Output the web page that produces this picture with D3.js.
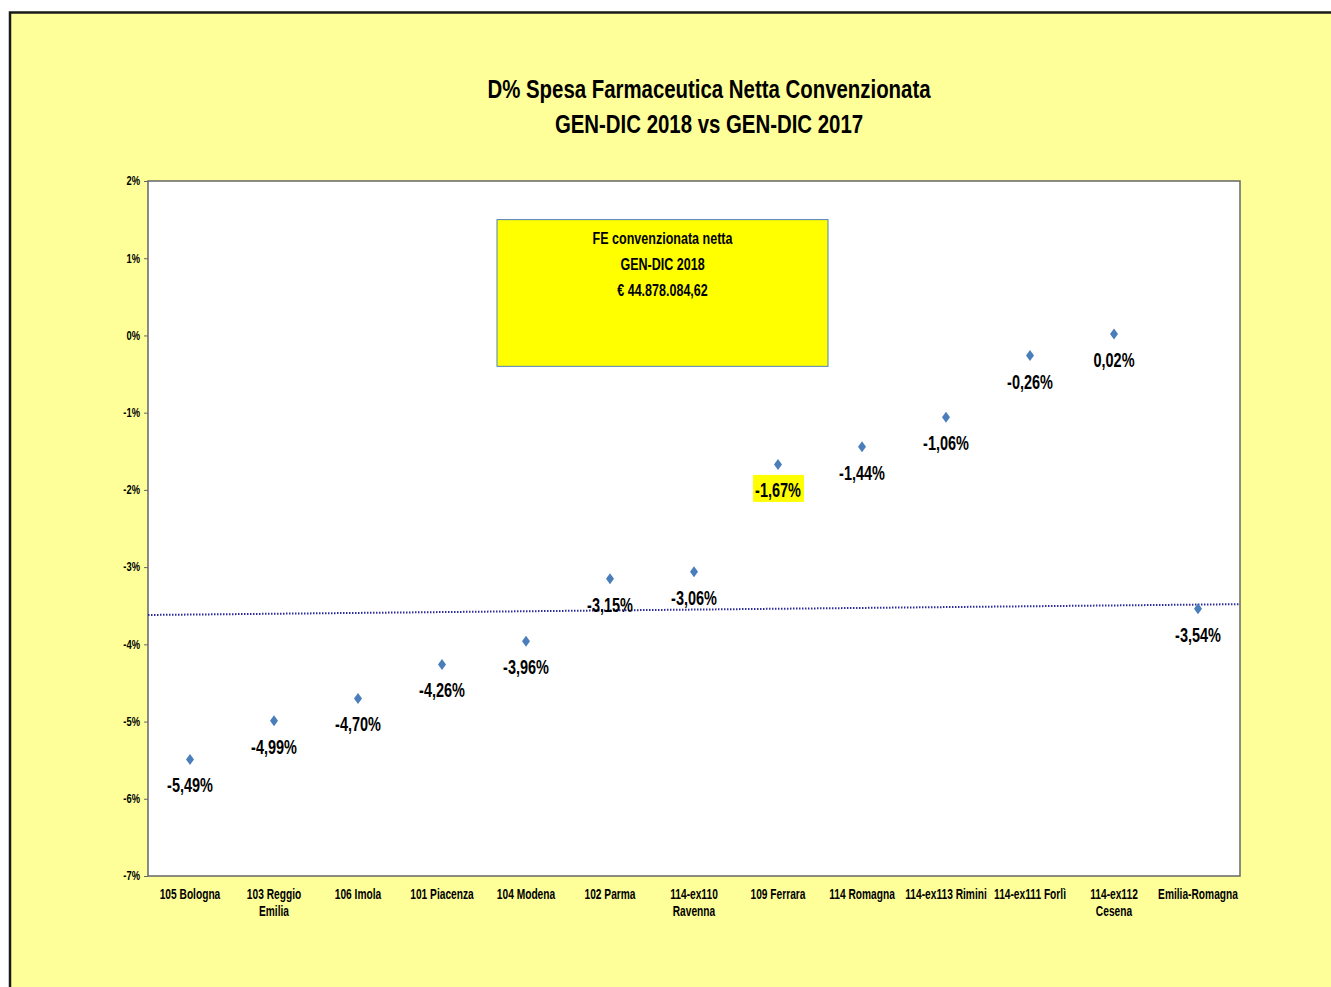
<!DOCTYPE html>
<html><head><meta charset="utf-8">
<script src="https://cdn.jsdelivr.net/npm/d3@7"></script>
<style>
html,body{margin:0;padding:0;background:#fff;}
svg{display:block;}
</style></head>
<body>
<script>
const categories = [["105 Bologna"],["103 Reggio","Emilia"],["106 Imola"],["101 Piacenza"],["104 Modena"],["102 Parma"],["114-ex110","Ravenna"],["109 Ferrara"],["114 Romagna"],["114-ex113 Rimini"],["114-ex111 Forlì"],["114-ex112","Cesena"],["Emilia-Romagna"]];
const values = [-5.49,-4.99,-4.70,-4.26,-3.96,-3.15,-3.06,-1.67,-1.44,-1.06,-0.26,0.02,-3.54];
const yTicks = [2,1,0,-1,-2,-3,-4,-5,-6,-7];
const trendLine = [-3.62,-3.48];
const highlighted = ["109 Ferrara"];
const titleLines = ["D% Spesa Farmaceutica Netta Convenzionata","GEN-DIC 2018 vs GEN-DIC 2017"];
const boxLines = ["FE convenzionata netta","GEN-DIC 2018","€ 44.878.084,62"];
const boxRange = {v0:1.5, v1:-0.4};

const W=1331,H=987;
const font = "'Liberation Sans',Arial,sans-serif";
const svg=d3.select("body").append("svg").attr("width",W).attr("height",H);
svg.append("rect").attr("x",0).attr("y",0).attr("width",W).attr("height",H).attr("fill","#fff");
svg.append("rect").attr("x",10).attr("y",12.5).attr("width",W+20).attr("height",H+20)
  .attr("fill","#ffff99").attr("stroke","#1a1a1a").attr("stroke-width",2.5);

const L=148,R=1240,T=181,B=876;
const x=d3.scaleBand().domain(categories.map(c=>c.join(" "))).range([L,R]);
const y=d3.scaleLinear().domain([-7,2]).range([B,T]);

// narrow text helper
function ntext(parent,tx,ty,size,sx,lines,lh){
  const t=parent.append("text").attr("transform",`translate(${tx},${ty}) scale(${sx},1)`)
    .attr("text-anchor","middle").attr("font-family",font).attr("font-weight","bold")
    .attr("font-size",size).attr("fill","#000");
  [].concat(lines).forEach((ln,i)=>t.append("tspan").attr("x",0).attr("dy",i?lh:0).text(ln));
  return t;
}

svg.append("rect").attr("x",L).attr("y",T).attr("width",R-L).attr("height",B-T)
  .attr("fill","#fff").attr("stroke","#666").attr("stroke-width",1.5);

// title
const gt=svg.append("g");
titleLines.forEach((d,i)=>ntext(gt,709,98+i*35,25.5,0.8,d));

// y axis
const yAxis=d3.axisLeft(y).tickValues(yTicks).tickSize(4).tickFormat(d=>d+"%");
const ga=svg.append("g").attr("transform",`translate(${L},0)`).call(yAxis);
ga.select(".domain").remove();
ga.selectAll("line").attr("stroke","#666");
ga.selectAll("text").attr("font-family",font).attr("font-weight","bold").attr("font-size",12)
  .attr("fill","#000").attr("x",-8/0.78).attr("transform","scale(0.78,1)");

// x axis labels
const gx=svg.append("g");
categories.forEach(c=>ntext(gx,x(c.join(" "))+x.bandwidth()/2,899,15,0.68,c,17.5));

// annotation box
const bx0=497,bx1=828;
svg.append("rect").attr("x",bx0).attr("y",y(boxRange.v0)).attr("width",bx1-bx0).attr("height",y(boxRange.v1)-y(boxRange.v0))
  .attr("fill","#ffff00").attr("stroke","#4f81bd").attr("stroke-width",1);
const gb=svg.append("g");
boxLines.forEach((d,i)=>ntext(gb,(bx0+bx1)/2,243.5+i*26,16.5,0.76,d));

// trend line
svg.append("line").attr("x1",L).attr("x2",R).attr("y1",y(trendLine[0])).attr("y2",y(trendLine[1]))
  .attr("stroke","#2b2b9b").attr("stroke-width",2).attr("stroke-dasharray","1.5,1.5");

const data=categories.map((c,i)=>({k:c.join(" "),v:values[i]}));
const cx=d=>x(d.k)+x.bandwidth()/2;
const fmt=v=>(v<0?"-":"")+Math.abs(v).toFixed(2).replace(".",",")+"%";
// label highlights
svg.append("g").selectAll("rect").data(data.filter(d=>highlighted.includes(d.k))).join("rect")
  .attr("x",d=>cx(d)-25).attr("y",d=>y(d.v)+10.5).attr("width",51).attr("height",27).attr("fill","#ffff00");
// markers
svg.append("g").selectAll("path").data(data).join("path")
  .attr("d","M0,-5.5L4,0L0,5.5L-4,0Z").attr("transform",d=>`translate(${cx(d)},${y(d.v)})`)
  .attr("fill","#4a7ebb");
// value labels
const gl=svg.append("g");
data.forEach(d=>ntext(gl,cx(d),y(d.v)+33,21,0.69,fmt(d.v)));
</script>
</body></html>
